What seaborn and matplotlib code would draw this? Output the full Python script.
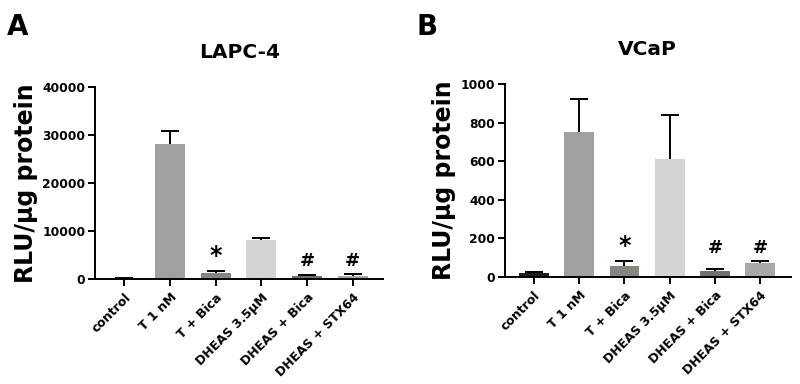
import matplotlib
matplotlib.use("Agg")
import matplotlib.pyplot as plt
import seaborn as sns
import numpy as np
import pandas as pd

categories = ["control", "T 1 nM", "T + Bica", "DHEAS 3.5\u03bcM", "DHEAS + Bica", "DHEAS + STX64"]
lapc4_values = [100, 28200, 1270, 8150, 570, 700]
lapc4_err = [50, 2600, 350, 450, 280, 360]
vcap_values = [20, 752, 55, 613, 31, 71]
vcap_err = [5, 168, 28, 225, 8, 13]
bar_colors = ["#1e1e1e", "#a0a0a0", "#828782", "#d4d4d4", "#6e726e", "#a8a8a8"]
marks = ["", "", "*", "", "#", "#"]
lapc4_ticks = [0, 10000, 20000, 30000, 40000]
vcap_ticks = [0, 200, 400, 600, 800, 1000]

sns.set_theme(style="ticks")
plt.rcParams["font.family"] = ["DejaVu Sans"]
plt.rcParams["text.color"] = "black"
plt.rcParams["axes.labelcolor"] = "black"
plt.rcParams["xtick.color"] = "black"
plt.rcParams["ytick.color"] = "black"

fig = plt.figure(figsize=(8, 3.84), dpi=100)
ax1 = fig.add_axes([0.119, 0.2734, 0.360, 0.500])
ax2 = fig.add_axes([0.631, 0.2786, 0.3575, 0.5026])

panels = [
    (ax1, lapc4_values, lapc4_err, lapc4_ticks, "LAPC-4", "A", 0.009),
    (ax2, vcap_values, vcap_err, vcap_ticks, "VCaP", "B", 0.521),
]

for ax, vals, errs, ticks, title, letter, lx in panels:
    df = pd.DataFrame({"cat": categories, "val": vals})
    sns.barplot(data=df, x="cat", y="val", hue="cat", palette=bar_colors,
                legend=False, ax=ax, width=0.66, errorbar=None,
                edgecolor="none", saturation=1)
    xs = np.arange(len(categories))
    eb = ax.errorbar(xs, vals, yerr=[np.zeros(len(vals)), errs], fmt="none",
                     ecolor="black", elinewidth=1.4, capsize=6.5, capthick=1.4, zorder=3)
    eb[1][0].set_visible(False)
    ax.set_ylim(ticks[0], ticks[-1])
    ax.set_yticks(ticks)
    ax.set_xlim(-0.64, 5.67)
    ax.set_xlabel("")
    ax.set_ylabel("RLU/\u03bcg protein", fontsize=17, fontweight="bold", labelpad=3)
    ax.set_title(title, fontsize=14.5, fontweight="bold", pad=21)
    sns.despine(ax=ax)
    for s in ["left", "bottom"]:
        ax.spines[s].set_linewidth(1.4)
        ax.spines[s].set_color("black")
    ax.tick_params(axis="both", direction="out", length=5, width=1.4, color="black")
    ax.tick_params(axis="y", labelsize=8.8, pad=2)
    ax.tick_params(axis="x", labelsize=9)
    for lab in ax.get_yticklabels():
        lab.set_fontweight("bold")
    ax.set_xticks(xs)
    ax.set_xticklabels(categories, rotation=45, ha="right", rotation_mode="anchor",
                       fontweight="bold")
    tops = [v + e for v, e in zip(vals, errs)]
    hash_level = max(t for t, m in zip(tops, marks) if m == "#")
    for i, (m, t) in enumerate(zip(marks, tops)):
        if not m:
            continue
        y = hash_level if m == "#" else t
        size = 17 if m == "*" else 13
        off = 2 if m == "*" else 3
        ax.annotate(m, (i, y), xytext=(0, off), textcoords="offset points",
                    ha="center", va="bottom", fontsize=size, fontweight="bold")
    fig.text(lx, 0.965, letter, fontsize=20, fontweight="bold", ha="left", va="top")

fig.savefig("out.png", dpi=100)
